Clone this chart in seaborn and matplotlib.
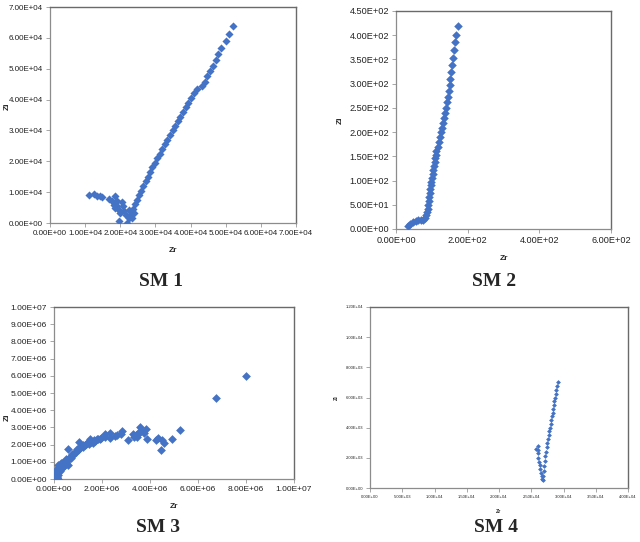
import matplotlib
matplotlib.use("Agg")
import matplotlib.pyplot as plt
import seaborn as sns
import pandas as pd
from matplotlib.ticker import FuncFormatter, MultipleLocator

# ---------------------------------------------------------------------------
# Data (Zr / Zi impedance points)
# ---------------------------------------------------------------------------

# SM 1  (x, y in units of 1e4)
sm1_zr = [1.10, 1.24, 1.33, 1.43, 1.48, 1.67, 1.76, 1.86, 1.81, 1.90, 1.86, 1.95,
          2.05, 2.00, 1.97, 2.11, 2.17, 2.24, 2.19, 2.29, 2.38, 2.33, 2.08, 1.92,
          2.24, 2.30, 2.36, 2.42, 2.48, 2.54, 2.60, 2.66, 2.72, 2.79, 2.85, 2.91,
          2.98, 3.05, 3.12, 3.19, 3.27, 3.34, 3.41, 3.49, 3.56, 3.64, 3.71, 3.79,
          3.86, 3.94, 4.02, 4.10, 4.18,
          4.32, 4.40, 4.48, 4.55, 4.64, 4.71, 4.78, 4.88, 5.02, 5.08, 5.21]
sm1_zi = [0.91, 0.94, 0.86, 0.88, 0.84, 0.78, 0.70, 0.86, 0.59, 0.54, 0.48, 0.43,
          0.67, 0.32, 0.05, 0.38, 0.27, 0.41, 0.00, 0.21, 0.32, 0.16, 0.55, 0.72,
          0.15, 0.30, 0.45, 0.60, 0.75, 0.90, 1.05, 1.20, 1.35, 1.50, 1.65, 1.80,
          1.95, 2.10, 2.25, 2.40, 2.55, 2.70, 2.85, 3.00, 3.15, 3.30, 3.45, 3.60,
          3.75, 3.90, 4.05, 4.20, 4.35,
          4.43, 4.58, 4.75, 4.92, 5.10, 5.29, 5.48, 5.68, 5.89, 6.13, 6.37]

# SM 2  (x, y in raw units)
sm2_zr = [34, 40, 47, 55, 62, 70, 76, 80, 84, 86, 88, 90, 92, 93, 95, 96, 98,
          99, 101, 102, 104, 106, 108, 110, 111, 113, 116, 119, 122, 125, 127,
          130, 133, 136, 139, 141, 144, 147, 150, 152, 154, 157, 160, 163, 166,
          168, 172]
sm2_zi = [6, 11, 15, 17, 18, 18, 19, 22, 28, 35, 42, 50, 58, 66, 74, 82, 90,
          98, 106, 114, 122, 130, 138, 146, 153, 160, 170, 180, 190, 200, 209,
          219, 230, 239, 250, 262, 272, 285, 297, 310, 324, 338, 354, 369, 385,
          401, 419]

# SM 3  (x, y in units of 1e6)
sm3_zr = [8.01, 6.74, 5.24, 4.92, 4.57, 4.46, 4.49, 4.33, 4.26, 3.88, 3.85, 3.74,
          3.57, 3.54, 3.43, 3.33, 3.29, 3.46, 3.08, 2.85, 2.78, 2.63, 2.53, 2.32,
          2.32, 2.11, 2.13, 1.97, 1.83, 1.67, 1.63, 1.49, 1.42, 1.32, 1.21, 1.04,
          1.07, 0.97, 0.86, 0.76, 0.58, 0.65, 0.51, 0.40, 0.31, 0.31, 0.21, 0.17,
          0.10, 0.06, 0.00, 0.12, 0.17, 0.44, 0.58, 0.51,
          0.02, 0.05, 0.08, 0.10, 0.15, 0.20, 0.25, 0.30, 0.35, 0.40, 0.45, 0.50,
          0.55, 0.60, 0.70, 0.80, 0.90, 1.00, 1.10, 1.20, 1.30, 1.45, 1.55, 1.70,
          1.80, 1.90, 0.12, 0.18, 0.25, 0.30, 0.40, 0.05, 0.15, 0.10, 3.62, 3.50]
sm3_zi = [6.00, 4.72, 2.84, 2.30, 2.07, 1.66, 2.26, 2.40, 2.26, 2.30, 2.88, 2.65,
          3.04, 2.69, 2.55, 2.46, 2.61, 2.42, 2.26, 2.80, 2.61, 2.55, 2.50, 2.69,
          2.36, 2.61, 2.46, 2.40, 2.34, 2.26, 2.07, 2.32, 2.13, 2.03, 1.97, 2.17,
          1.88, 1.74, 1.59, 1.43, 1.74, 1.30, 1.14, 0.97, 0.91, 0.72, 0.62, 0.43,
          0.29, 0.14, 0.04, 0.04, 0.81, 0.81, 0.81, 0.91,
          0.10, 0.20, 0.35, 0.50, 0.55, 0.70, 0.80, 0.85, 0.95, 0.90, 1.00, 0.95,
          1.05, 1.15, 1.25, 1.40, 1.55, 1.70, 1.80, 1.85, 1.95, 2.05, 2.15, 2.20,
          2.30, 2.35, 0.10, 0.25, 0.45, 0.60, 0.75, 0.05, 0.00, 0.15, 2.80, 2.70]

# SM 4  (x in units of 1e4, y in units of 1e3)
sm4_zr = [2.58, 2.60, 2.61, 2.60, 2.61, 2.62, 2.63, 2.64, 2.65, 2.66, 2.665, 2.675,
          2.68, 2.69, 2.70, 2.71, 2.72, 2.73, 2.74, 2.75, 2.76, 2.77, 2.78, 2.79,
          2.80, 2.81, 2.82, 2.83, 2.84, 2.85, 2.86, 2.87, 2.88, 2.89, 2.90, 2.92]
sm4_zi = [2.60, 2.80, 2.55, 2.30, 2.00, 1.75, 1.50, 1.25, 1.00, 0.80, 0.60, 0.55,
          0.80, 1.10, 1.45, 1.80, 2.10, 2.40, 2.70, 3.00, 3.25, 3.50, 3.75, 4.00,
          4.25, 4.50, 4.75, 5.00, 5.25, 5.50, 5.75, 6.00, 6.25, 6.50, 6.75, 7.05]

PANELS = [
    # title, zr, zi, x scale, y scale, xmax, xstep, ymax, ystep
    ("SM 1", sm1_zr, sm1_zi, 1e4, 1e4, 7e4, 1e4, 7e4, 1e4),
    ("SM 2", sm2_zr, sm2_zi, 1, 1, 600, 200, 450, 50),
    ("SM 3", sm3_zr, sm3_zi, 1e6, 1e6, 1e7, 2e6, 1e7, 1e6),
    ("SM 4", sm4_zr, sm4_zi, 1e4, 1e3, 4e4, 5e3, 1.2e4, 2e3),
]

# pixel boxes of the plot areas: left, top, right, bottom
BOXES = [(50, 7, 296, 223), (396, 11, 611, 229), (54, 307, 294, 479), (370, 307, 628, 488)]
TITLE_POS = [(161, 282), (494, 282), (158, 528), (496, 528)]
TICK_SIZE = [5.8, 6.6, 6.0, 3.0]
LABEL_SIZE = [6.0, 6.0, 6.0, 3.8]
MARKER_S = [17, 19, 20, 6]
ZI_POS = [(-0.16, 0.54), (-0.245, 0.5), (-0.18, 0.36), (-0.12, 0.5)]

COLOR = "#4472C4"
W, H = 640, 542

sns.set_style("white")
plt.rcParams["font.family"] = ["Liberation Sans Narrow", "Liberation Sans", "DejaVu Sans"]

fig = plt.figure(figsize=(W / 100, H / 100), dpi=100)

sci = FuncFormatter(lambda v, _: f"{v:.2E}")

for i, (title, zr, zi, sx, sy, xmax, xstep, ymax, ystep) in enumerate(PANELS):
    l, t, r, b = BOXES[i]
    ax = fig.add_axes([l / W, 1 - b / H, (r - l) / W, (b - t) / H])
    df = pd.DataFrame({"Zr": [v * sx for v in zr], "Zi": [v * sy for v in zi]})
    sns.scatterplot(data=df, x="Zr", y="Zi", ax=ax, marker="D", s=MARKER_S[i],
                    color=COLOR, linewidth=0, zorder=3)
    ax.set_xlim(0, xmax)
    ax.set_ylim(0, ymax)
    ax.xaxis.set_major_locator(MultipleLocator(xstep))
    ax.yaxis.set_major_locator(MultipleLocator(ystep))
    ax.xaxis.set_major_formatter(sci)
    ax.yaxis.set_major_formatter(sci)
    ax.tick_params(axis="both", which="major", direction="out", length=3, width=0.6,
                   color="#999999", labelsize=TICK_SIZE[i], labelcolor="#222222", pad=2,
                   bottom=True, left=True)
    for side in ("left", "bottom"):
        ax.spines[side].set_color("#8c8c8c")
        ax.spines[side].set_linewidth(0.9)
    for side in ("top", "right"):
        ax.spines[side].set_color("#6a6a6a")
        ax.spines[side].set_linewidth(1.0)
    ax.set_xlabel("Zr", fontsize=LABEL_SIZE[i], fontweight="bold", labelpad=7)
    ax.set_ylabel("Zi", fontsize=LABEL_SIZE[i], fontweight="bold")
    ax.yaxis.set_label_coords(*ZI_POS[i])

    tx, ty = TITLE_POS[i]
    fig.text(tx / W, 1 - ty / H, title, ha="center", va="center", fontsize=14,
             fontweight="bold", family=["Liberation Serif", "DejaVu Serif"])

fig.savefig("out.png", dpi=100)
